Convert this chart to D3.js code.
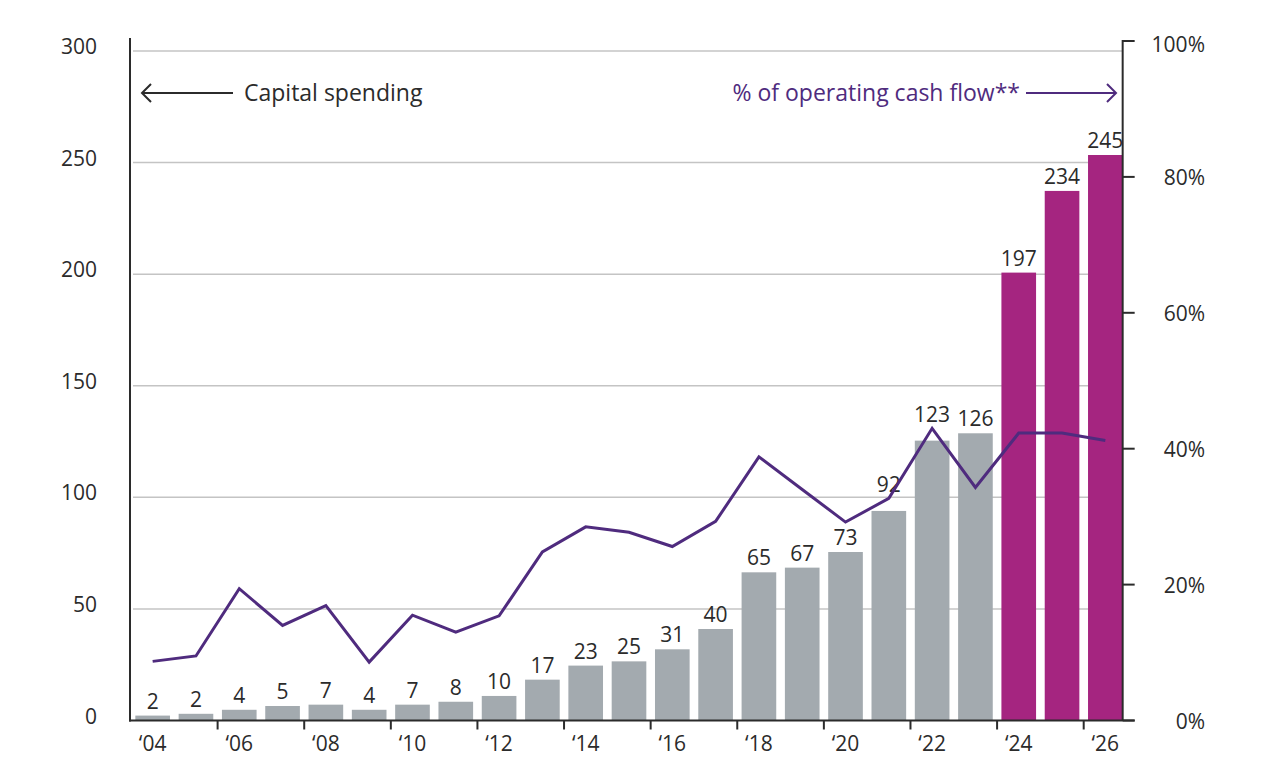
<!DOCTYPE html>
<html>
<head>
<meta charset="utf-8">
<script src="https://cdn.jsdelivr.net/npm/d3@7"></script>
<style>
  body { margin: 0; background: #fff; }
  svg { display: block; font-family: "Open Sans", sans-serif; }
</style>
</head>
<body>
<svg width="1280" height="776"></svg>
<script>
// capital spending, as printed above each bar
const years = d3.range(2004, 2027);
const capexLabels = [2, 2, 4, 5, 7, 4, 7, 8, 10, 17, 23, 25, 31, 40, 65, 67, 73, 92, 123, 126, 197, 234, 245];
// bar heights as drawn in the picture (slightly above the printed numbers)
const capexBars = [2.2, 3.0, 4.8, 6.5, 7.1, 4.8, 7.1, 8.4, 11.0, 18.3, 24.6, 26.5, 31.9, 41.0, 66.4, 68.5, 75.5, 93.9, 125.4, 128.7, 200.7, 237.3, 253.4];
// % of operating cash flow
const cashFlowPct = [8.7, 9.5, 19.4, 14.0, 16.9, 8.6, 15.5, 13.0, 15.4, 24.8, 28.5, 27.7, 25.6, 29.3, 38.8, 34.0, 29.2, 32.7, 43.0, 34.3, 42.3, 42.3, 41.2];
const forecastFrom = 2024;
const leftTicks = [0, 50, 100, 150, 200, 250, 300];
const rightTicks = [0, 20, 40, 60, 80, 100];

const svg = d3.select('svg');
const dark = '#2b2b2b';
const purple = '#4f2b7e';
const fs = '21px';

const x = d3.scaleBand().domain(years).range([131, 1127]).paddingInner(0.2).paddingOuter(0.1);
const y = d3.scaleLinear().domain([0, 300]).range([720.5, 51]);
const yPct = d3.scaleLinear().domain([0, 100]).range([720.5, 41]);
const left = 130, right = x(2026) + x.bandwidth();
const cx = d => x(d) + x.bandwidth() / 2;

// gridlines
svg.append('g')
    .selectAll('line')
    .data(leftTicks.slice(1))
    .join('line')
    .attr('x1', left + 3)
    .attr('x2', right)
    .attr('y1', d => y(d))
    .attr('y2', d => y(d))
    .attr('stroke', '#c4c4c4')
    .attr('stroke-width', 1.5);

// left tick labels
svg.append('g')
    .selectAll('text')
    .data(leftTicks)
    .join('text')
    .attr('x', 97)
    .attr('y', d => y(d) - 5)
    .attr('text-anchor', 'end')
    .attr('dominant-baseline', 'central')
    .attr('font-size', fs)
    .attr('fill', dark)
    .text(d => d);

// bars
svg.append('g')
    .selectAll('rect')
    .data(years)
    .join('rect')
    .attr('x', d => x(d))
    .attr('width', x.bandwidth())
    .attr('y', (d, i) => y(capexBars[i]))
    .attr('height', (d, i) => y(0) - y(capexBars[i]))
    .attr('fill', d => d >= forecastFrom ? '#a52580' : '#a3aaaf');

// value labels, pushed above the line where it runs across the bar top
function labelY(i) {
    const top = y(capexBars[i]);
    const ly = yPct(cashFlowPct[i]);
    if (ly > top - 24 && ly < top + 4) return ly - 6;
    return top - 7;
}

svg.append('g')
    .selectAll('text')
    .data(years)
    .join('text')
    .attr('x', cx)
    .attr('y', (d, i) => labelY(i))
    .attr('text-anchor', 'middle')
    .attr('font-size', fs)
    .attr('fill', dark)
    .text((d, i) => capexLabels[i]);

// cash flow line
const line = d3.line()
    .x((d, i) => cx(years[i]))
    .y(d => yPct(d));

svg.append('path')
    .datum(cashFlowPct)
    .attr('d', line)
    .attr('fill', 'none')
    .attr('stroke', purple)
    .attr('stroke-width', 3)
    .attr('stroke-linejoin', 'miter');

// axes
const axisY0 = y(0);
svg.append('line')
    .attr('x1', left).attr('x2', left)
    .attr('y1', 38).attr('y2', axisY0 + 1)
    .attr('stroke', dark).attr('stroke-width', 2);

svg.append('line')
    .attr('x1', right).attr('x2', right)
    .attr('y1', yPct(100) - 1).attr('y2', axisY0)
    .attr('stroke', dark).attr('stroke-width', 2);

svg.append('line')
    .attr('x1', left - 1).attr('x2', right + 12)
    .attr('y1', axisY0).attr('y2', axisY0)
    .attr('stroke', dark).attr('stroke-width', 2);

// right ticks + labels
const rg = svg.append('g');
rg.selectAll('line')
    .data(rightTicks)
    .join('line')
    .attr('x1', right).attr('x2', right + 12)
    .attr('y1', d => yPct(d)).attr('y2', d => yPct(d))
    .attr('stroke', dark).attr('stroke-width', 2);
rg.selectAll('text')
    .data(rightTicks)
    .join('text')
    .attr('x', 1205)
    .attr('y', d => yPct(d) + (d === 100 ? 3 : 0))
    .attr('text-anchor', 'end')
    .attr('dominant-baseline', 'central')
    .attr('font-size', fs)
    .attr('fill', dark)
    .text(d => d + '%');

// x ticks + labels (every other year)
const labelYears = years.filter(d => d % 2 === 0);
const gap = x.step() * x.paddingInner() / 2;
svg.append('g')
    .selectAll('line')
    .data(labelYears.slice(1))
    .join('line')
    .attr('x1', d => x(d) - gap).attr('x2', d => x(d) - gap)
    .attr('y1', axisY0).attr('y2', axisY0 + 9)
    .attr('stroke', dark).attr('stroke-width', 2);

svg.append('g')
    .selectAll('text')
    .data(labelYears)
    .join('text')
    .attr('x', cx)
    .attr('y', 751)
    .attr('text-anchor', 'middle')
    .attr('font-size', fs)
    .attr('fill', dark)
    .text(d => '\u2018' + String(d).slice(2));

// annotations with arrows
function arrow(x1, x2, yy, color, dir) {
    svg.append('line')
        .attr('x1', x1).attr('x2', x2)
        .attr('y1', yy).attr('y2', yy)
        .attr('stroke', color).attr('stroke-width', 2);
    const tip = dir < 0 ? x1 : x2;
    svg.append('path')
        .attr('d', `M${tip - dir * 9},${yy - 9}L${tip},${yy}L${tip - dir * 9},${yy + 9}`)
        .attr('fill', 'none')
        .attr('stroke', color)
        .attr('stroke-width', 2);
}

arrow(142, 233, 93, dark, -1);
svg.append('text')
    .attr('x', 244).attr('y', 101)
    .attr('font-size', '23px')
    .attr('fill', dark)
    .text('Capital spending');

arrow(1026, 1116, 93, purple, 1);
svg.append('text')
    .attr('x', 1020).attr('y', 101)
    .attr('text-anchor', 'end')
    .attr('font-size', '23px')
    .attr('fill', purple)
    .text('% of operating cash flow**');
</script>
</body>
</html>
